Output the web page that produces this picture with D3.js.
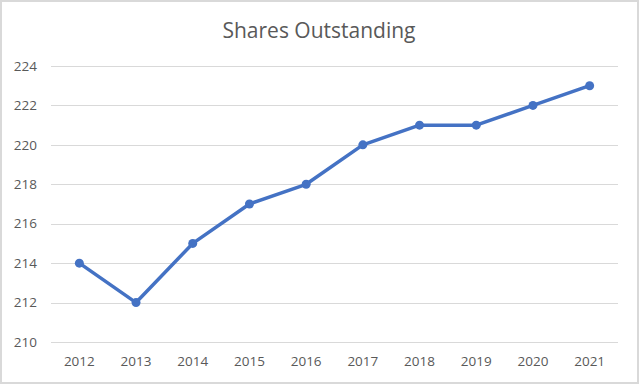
<!DOCTYPE html>
<html>
<head>
<meta charset="utf-8">
<script src="https://cdnjs.cloudflare.com/ajax/libs/d3/7.8.5/d3.min.js"></script>
<style>
  body { margin: 0; background: #fff; }
  text { font-family: "Open Sans", "Noto Sans", sans-serif; fill: #595959; }
</style>
</head>
<body>
<div id="chart"></div>
<script>
const years = ["2012","2013","2014","2015","2016","2017","2018","2019","2020","2021"];
const shares = [214, 212, 215, 217, 218, 220, 221, 221, 222, 223];
const yTicks = [210, 212, 214, 216, 218, 220, 222, 224];

const width = 639;
const height = 384;
const color = "#4472C4";

const svg = d3.select("#chart")
              .append("svg")
              .attr("width", width)
              .attr("height", height);

// chart border
svg.append("rect")
    .attr("x", 1).attr("y", 1)
    .attr("width", width - 2).attr("height", height - 2)
    .attr("fill", "#fff")
    .attr("stroke", "#d9d9d9")
    .attr("stroke-width", 2);

let x = d3.scalePoint().domain(years).range([51, 618]).padding(0.5);
let y = d3.scaleLinear().domain([210, 224]).range([342, 66]);

// gridlines
svg.append("g")
  .selectAll("line")
  .data(yTicks)
  .join("line")
    .attr("x1", 51)
    .attr("x2", 618)
    .attr("y1", d => Math.round(y(d)) + 0.5)
    .attr("y2", d => Math.round(y(d)) + 0.5)
    .attr("stroke", "#d9d9d9")
    .attr("stroke-width", 1);

// y labels
svg.append("g")
  .selectAll("text")
  .data(yTicks)
  .join("text")
    .attr("x", 37)
    .attr("y", d => y(d))
    .attr("dy", "0.35em")
    .attr("text-anchor", "end")
    .attr("font-size", 13.5)
    .text(d => d);

// x labels
svg.append("g")
  .selectAll("text")
  .data(years)
  .join("text")
    .attr("x", d => x(d))
    .attr("y", 366)
    .attr("text-anchor", "middle")
    .attr("font-size", 13.5)
    .text(d => d);

// title
svg.append("text")
    .attr("x", 319)
    .attr("y", 38)
    .attr("text-anchor", "middle")
    .attr("font-size", 21)
    .text("Shares Outstanding");

const line = d3.line()
    .x((d, i) => x(years[i]))
    .y(d => y(d));

svg.append("path")
    .datum(shares)
    .attr("d", line)
    .attr("fill", "none")
    .attr("stroke", color)
    .attr("stroke-width", 3.5)
    .attr("stroke-linejoin", "round");

svg.append("g")
  .selectAll("circle")
  .data(shares)
  .join("circle")
    .attr("cx", (d, i) => x(years[i]))
    .attr("cy", d => y(d))
    .attr("r", 4.5)
    .attr("fill", color);
</script>
</body>
</html>
